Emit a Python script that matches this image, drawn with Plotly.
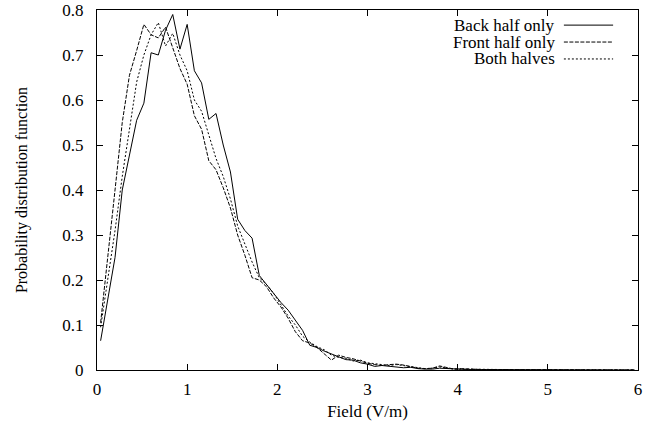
import plotly.graph_objects as go

field = [0.04, 0.12, 0.20, 0.28, 0.36, 0.44, 0.52, 0.60, 0.68, 0.76,
         0.84, 0.92, 1.00, 1.08, 1.16, 1.24, 1.32, 1.40, 1.48, 1.56,
         1.64, 1.72, 1.80, 1.88, 1.96, 2.04, 2.12, 2.20, 2.28, 2.36,
         2.44, 2.52, 2.60, 2.68, 2.76, 2.84, 2.92, 3.00, 3.08, 3.16,
         3.24, 3.32, 3.40, 3.48, 3.56, 3.64, 3.72, 3.80, 3.88, 3.96,
         4.04, 4.12, 4.20, 4.28, 4.36, 4.44, 4.52, 4.60, 4.68, 4.76,
         4.84, 4.92, 5.00, 5.08, 5.16, 5.24, 5.32, 5.40, 5.48, 5.56,
         5.64, 5.72, 5.80, 5.88, 5.96]

back_half = [0.065, 0.16, 0.25, 0.40, 0.48, 0.555, 0.593, 0.705, 0.70, 0.755,
             0.79, 0.713, 0.768, 0.665, 0.638, 0.557, 0.570, 0.50, 0.44, 0.335,
             0.31, 0.293, 0.21, 0.19, 0.168, 0.15, 0.133, 0.11, 0.088, 0.055,
             0.05, 0.042, 0.036, 0.03, 0.023, 0.022, 0.016, 0.013, 0.008, 0.010,
             0.008, 0.006, 0.005, 0.006, 0.003, 0.002, 0.002, 0.004, 0.003, 0.002,
             0.001, 0.001, 0.001, 0.001, 0.0, 0.001, 0.0, 0.0, 0.0, 0.0,
             0.0, 0.0, 0.0, 0.0, 0.0, 0.0, 0.0, 0.0, 0.0, 0.0,
             0.0, 0.0, 0.0, 0.0, 0.0]

front_half = [0.105, 0.26, 0.40, 0.55, 0.655, 0.71, 0.768, 0.745, 0.738, 0.762,
              0.715, 0.67, 0.635, 0.565, 0.535, 0.465, 0.445, 0.405, 0.36, 0.30,
              0.255, 0.205, 0.20, 0.185, 0.16, 0.14, 0.115, 0.085, 0.065, 0.06,
              0.05, 0.035, 0.022, 0.033, 0.028, 0.025, 0.02, 0.015, 0.012, 0.01,
              0.012, 0.013, 0.011, 0.008, 0.004, 0.003, 0.004, 0.009, 0.005, 0.002,
              0.003, 0.002, 0.002, 0.001, 0.001, 0.001, 0.001, 0.001, 0.001, 0.0,
              0.0, 0.001, 0.0, 0.0, 0.0, 0.001, 0.0, 0.0, 0.0, 0.0,
              0.0, 0.0, 0.0, 0.0, 0.0]

both_halves = [0.095, 0.20, 0.31, 0.43, 0.54, 0.64, 0.70, 0.745, 0.772, 0.72,
               0.748, 0.70, 0.665, 0.60, 0.575, 0.52, 0.47, 0.43, 0.38, 0.32,
               0.28, 0.24, 0.205, 0.19, 0.17, 0.145, 0.12, 0.10, 0.075, 0.062,
               0.052, 0.045, 0.033, 0.028, 0.026, 0.02, 0.022, 0.016, 0.014, 0.012,
               0.01, 0.012, 0.01, 0.007, 0.005, 0.003, 0.004, 0.007, 0.004, 0.002,
               0.002, 0.002, 0.001, 0.001, 0.001, 0.001, 0.001, 0.0, 0.0, 0.0,
               0.0, 0.0, 0.0, 0.0, 0.0, 0.0, 0.0, 0.0, 0.0, 0.0,
               0.0, 0.0, 0.0, 0.0, 0.0]

series_names = ["Back half only", "Front half only", "Both halves"]
series_values = [back_half, front_half, both_halves]
dashes = ["solid", "4px,1.5px", "2px,2px"]

x_ticks = [0, 1, 2, 3, 4, 5, 6]
y_ticks = [0, 0.1, 0.2, 0.3, 0.4, 0.5, 0.6, 0.7, 0.8]
y_tick_text = ["0", "0.1", "0.2", "0.3", "0.4", "0.5", "0.6", "0.7", "0.8"]

FONT = "Liberation Serif"
FS = 17

fig = go.Figure()
for name, vals, d in zip(series_names, series_values, dashes):
    fig.add_trace(go.Scatter(x=field, y=vals, mode="lines", name=name,
                             line=dict(color="black", width=1, dash=d),
                             showlegend=False, hoverinfo="skip"))

# gnuplot-style legend: right-aligned text with line sample on the right
legend_rows = [0.958, 0.911, 0.864]
for name, d, yr in zip(series_names, dashes, legend_rows):
    fig.add_annotation(x=0.848, y=yr, xref="paper", yref="paper", text=name,
                       showarrow=False, xanchor="right", yanchor="middle",
                       borderpad=0, font=dict(family=FONT, size=FS, color="black"))
    fig.add_shape(type="line", xref="paper", yref="paper",
                  x0=0.863, x1=0.954, y0=yr, y1=yr,
                  line=dict(color="black", width=1, dash=d))

axis_common = dict(showgrid=False, zeroline=False, showline=True, linecolor="black",
                   linewidth=1, mirror="allticks", ticks="inside", ticklen=6,
                   tickcolor="black", tickwidth=1, automargin=False,
                   tickfont=dict(family=FONT, size=FS, color="black"))

fig.update_xaxes(range=[0, 6], tickvals=x_ticks, ticklabelstandoff=4,
                 title=dict(text="Field (V/m)", font=dict(family=FONT, size=FS, color="black"),
                            standoff=6),
                 **axis_common)
fig.update_yaxes(range=[0, 0.8], tickvals=y_ticks, ticktext=y_tick_text, ticklabelstandoff=9,
                 title=dict(text="Probability distribution function",
                            font=dict(family=FONT, size=16, color="black"), standoff=30),
                 **axis_common)

fig.update_layout(width=650, height=426, margin=dict(l=97, r=12, t=10, b=56),
                  plot_bgcolor="white", paper_bgcolor="white", hovermode=False,
                  font=dict(family=FONT, size=FS, color="black"))

fig.write_html("out.html", config={"displayModeBar": False, "staticPlot": True},
               post_script="document.body.style.margin='0';document.body.style.overflow='hidden';")
